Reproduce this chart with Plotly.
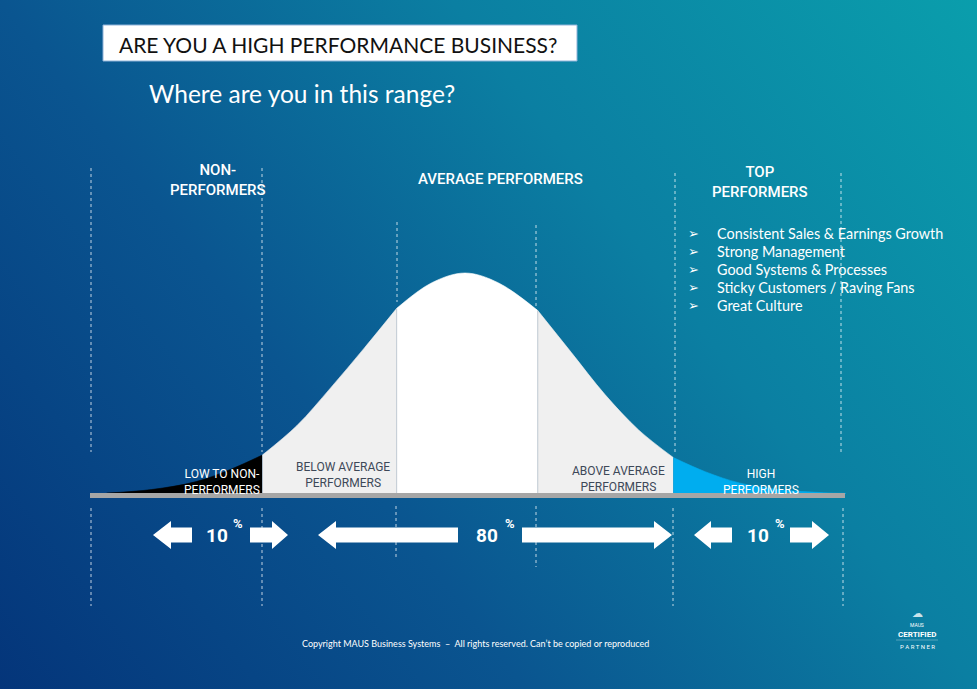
import base64
import plotly.graph_objects as go

# ---------------- data ----------------
# bell curve: x in standard deviations, height relative to the peak
curve_x = [-3.2, -2.8, -2.4, -2.1, -1.81, -1.5, -1.2, -0.9, -0.61, -0.3, 0.0,
           0.3, 0.65, 0.95, 1.25, 1.55, 1.86, 2.15, 2.45, 2.8, 3.2, 3.4]
curve_y = [0.004, 0.02, 0.056, 0.11, 0.176, 0.31, 0.48, 0.66, 0.84, 0.955, 1.0,
           0.955, 0.83, 0.64, 0.45, 0.29, 0.165, 0.10, 0.05, 0.02, 0.006, 0.003]

segment_bounds = [-3.2, -1.81, -0.61, 0.65, 1.86, 3.4]
segment_labels = ["LOW TO NON-<br>PERFORMERS", "BELOW AVERAGE<br>PERFORMERS", "",
                  "ABOVE AVERAGE<br>PERFORMERS", "HIGH<br>PERFORMERS"]
segment_colors = ["#000000", "#f0f0f0", "#ffffff", "#f0f0f0", "#00adef"]
segment_text_colors = ["#ffffff", "#3d4858", "#3d4858", "#3d4858", "#ffffff"]

group_titles = ["NON-<br>PERFORMERS", "AVERAGE PERFORMERS", "TOP<br>PERFORMERS"]
group_shares = [10, 80, 10]

top_traits = ["Consistent Sales & Earnings Growth", "Strong Management",
              "Good Systems & Processes", "Sticky Customers / Raving Fans", "Great Culture"]

title_text = "ARE YOU A HIGH PERFORMANCE BUSINESS?"
subtitle_text = "Where are you in this range?"
footer_text = "Copyright MAUS Business Systems  \u2013  All rights reserved. Can\u2019t be copied or reproduced"

# ---------------- layout helpers ----------------
W, H = 977, 689
CX, SX = 465.0, 112.0      # pixel centre and pixels per sigma
BY, SY = 494.0, 221.0      # baseline pixel and pixels per unit height


def px(x):
    return x / W


def py(y):
    return 1 - y / H


def path(points):
    return "M " + " L ".join(f"{px(a):.5f},{py(b):.5f}" for a, b in points) + " Z"


svg = ('<svg xmlns="http://www.w3.org/2000/svg" width="977" height="689" preserveAspectRatio="none">'
       '<defs><linearGradient id="g" x1="0" y1="1" x2="1.193" y2="0.358">'
       '<stop offset="0" stop-color="#04357a"/><stop offset="0.35" stop-color="#0a5590"/>'
       '<stop offset="0.65" stop-color="#0b7fa2"/><stop offset="1" stop-color="#0a9eac"/>'
       '</linearGradient></defs><rect width="977" height="689" fill="url(#g)"/></svg>')
bg_uri = "data:image/svg+xml;base64," + base64.b64encode(svg.encode()).decode()

fig = go.Figure()

# bell curve segments
for i in range(len(segment_colors)):
    lo, hi = segment_bounds[i], segment_bounds[i + 1]
    xs = [x for x in curve_x if lo <= x <= hi]
    ys = [y for x, y in zip(curve_x, curve_y) if lo <= x <= hi]
    fig.add_trace(go.Scatter(x=xs, y=ys, mode="lines", fill="tozeroy",
                             fillcolor=segment_colors[i],
                             line=dict(color=segment_colors[i], width=0.6, shape="spline"),
                             hoverinfo="skip", showlegend=False))

# faint dividers inside the curve
for b in segment_bounds[2:4]:
    h = curve_y[curve_x.index(b)]
    fig.add_trace(go.Scatter(x=[b, b], y=[0, h], mode="lines",
                             line=dict(color="#c9cfd6", width=1),
                             hoverinfo="skip", showlegend=False))

shapes = []
# title box
shapes.append(dict(type="rect", xref="paper", yref="paper", x0=px(103), x1=px(577),
                   y0=py(61), y1=py(25), fillcolor="white", line=dict(color="#8fb3d9", width=1)))
# baseline
shapes.append(dict(type="line", xref="paper", yref="paper", x0=px(90), x1=px(845),
                   y0=py(495.5), y1=py(495.5), line=dict(color="#a6a6a6", width=5)))

# dotted guides
dotted = [(91, 168, 452), (262, 168, 452), (397, 222, 302), (536, 225, 310),
          (675, 173, 455), (841, 173, 455),
          (91, 508, 606), (262, 508, 606), (396, 506, 557), (536, 506, 567),
          (673, 508, 606), (843, 508, 606)]
for x, y0, y1 in dotted:
    shapes.append(dict(type="line", xref="paper", yref="paper", x0=px(x), x1=px(x),
                       y0=py(y0), y1=py(y1), line=dict(color="rgba(255,255,255,0.75)", width=1, dash="dot")))


def left_arrow(tip, back, end):
    return path([(tip, 535), (back, 521), (back, 527.5), (end, 527.5), (end, 542.5),
                 (back, 542.5), (back, 549)])


def right_arrow(start, back, tip):
    return path([(start, 527.5), (back, 527.5), (back, 521), (tip, 535), (back, 549),
                 (back, 542.5), (start, 542.5)])


arrows = [left_arrow(153, 171, 192), right_arrow(250, 272, 288),
          left_arrow(318, 336, 458), right_arrow(522, 654, 672),
          left_arrow(694, 711, 732), right_arrow(790, 812, 829)]
for p in arrows:
    shapes.append(dict(type="path", xref="paper", yref="paper", path=p,
                       fillcolor="white", line=dict(width=0)))

ann = []


def text(x, y, s, size, color="white", family="Roboto", xanchor="center", weight=None):
    f = dict(size=size, color=color, family=family)
    if weight:
        f["weight"] = weight
    ann.append(dict(xref="paper", yref="paper", x=px(x), y=py(y), text=s, showarrow=False,
                    xanchor=xanchor, yanchor="middle", align="center", font=f))


text(117, 44, title_text, 21, color="#111111", family="Lato", xanchor="left")
text(147, 94, subtitle_text, 24.5, family="Lato", xanchor="left")

# group titles
for s, (x, y) in zip(group_titles, [(218, 180), (500, 179), (760, 182)]):
    text(x, y, s, 15, weight=500)

# traits
for i, t in enumerate(top_traits):
    y = 234 + i * 17.8
    text(693, y, "\u27a2", 13, family="DejaVu Sans")
    text(715, y, t, 14.4, family="Lato", xanchor="left")

# segment labels
seg_pos = [(222, 482), (343, 475), (463, 490), (618, 479), (761, 482)]
for s, c, (x, y) in zip(segment_labels, segment_text_colors, seg_pos):
    if s:
        text(x, y, s, 12, color=c)

# shares
for v, (x, xp) in zip(group_shares, [(217, 238), (487, 510), (758, 780)]):
    text(x, 535, str(v), 19, weight="bold")
    text(xp, 523, "%", 13, weight="bold")

text(475, 643, footer_text, 9, family="Lato")

# certified partner badge
text(917, 613, "\u2601", 11, color="rgba(255,255,255,0.8)", family="DejaVu Sans")
text(917, 625, "MAUS", 5, family="Roboto")
text(917, 634, "CERTIFIED", 8, weight="bold")
shapes.append(dict(type="line", xref="paper", yref="paper", x0=px(896), x1=px(938),
                   y0=py(640), y1=py(640), line=dict(color="rgba(255,255,255,0.5)", width=0.6)))
text(917, 646, "P A R T N E R", 6)

fig.update_layout(
    width=W, height=H, margin=dict(l=0, r=0, t=0, b=0),
    paper_bgcolor="#0a5d92", plot_bgcolor="rgba(0,0,0,0)",
    xaxis=dict(visible=False, range=[-CX / SX, (W - CX) / SX], fixedrange=True),
    yaxis=dict(visible=False, range=[-(H - BY) / SY, BY / SY], fixedrange=True),
    images=[dict(source=bg_uri, xref="paper", yref="paper", x=0, y=1, sizex=1, sizey=1,
                 xanchor="left", yanchor="top", sizing="stretch", layer="below")],
    shapes=shapes, annotations=ann, showlegend=False,
)

fig.write_html("out.html", config={"displayModeBar": False})
